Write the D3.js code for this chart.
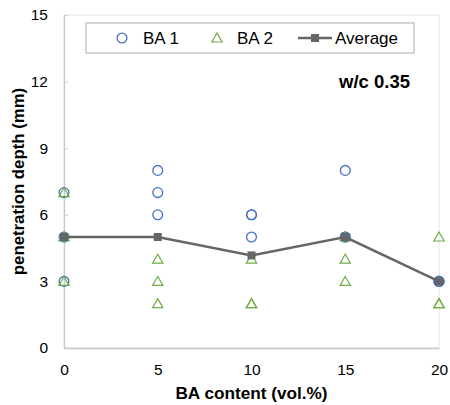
<!DOCTYPE html>
<html>
<head>
<meta charset="utf-8">
<script src="https://cdn.jsdelivr.net/npm/d3@7"></script>
<style>
  html, body { margin: 0; padding: 0; background: #fff; }
  svg { display: block; font-family: "Liberation Sans", Arial, sans-serif; }
</style>
</head>
<body>
<svg id="chart" width="450" height="405"></svg>
<script>
// BA content levels (vol.%)
const baContent = [0, 5, 10, 15, 20];
// Individual penetration depth readings (mm), three per BA content level
const ba1Values = [[7, 5, 3], [8, 7, 6], [6, 6, 5], [8, 5, 5], [3, 3, 3]];
const ba2Values = [[7, 5, 3], [4, 3, 2], [4, 2, 2], [5, 4, 3], [5, 2, 2]];
// Mean penetration depth per BA content level (mm)
const averageValues = [5, 5, 4.17, 5, 3];
const xTicks = [0, 5, 10, 15, 20];
const yTicks = [0, 3, 6, 9, 12, 15];

const svg = d3.select("#chart");
const plotLeft = 64, plotRight = 439, plotTop = 15, plotBottom = 348;

const x = d3.scaleLinear().domain([0, 20]).range([plotLeft, plotRight]);
const y = d3.scaleLinear().domain([0, 15]).range([plotBottom, plotTop]);

// Plot frame
svg.append("rect")
  .attr("x", plotLeft).attr("y", plotTop)
  .attr("width", plotRight - plotLeft).attr("height", plotBottom - plotTop)
  .attr("fill", "none").attr("stroke", "#e6e6e6").attr("stroke-width", 1);

// Axes
const yAxis = svg.append("g").attr("transform", `translate(${plotLeft},0)`)
  .call(d3.axisLeft(y).tickValues(yTicks).tickSize(0).tickPadding(16));
const xAxis = svg.append("g").attr("transform", `translate(0,${plotBottom})`)
  .call(d3.axisBottom(x).tickValues(xTicks).tickSize(0).tickPadding(16));
[yAxis, xAxis].forEach(g => {
  g.select(".domain").attr("stroke", "#c8c8c8").attr("stroke-width", 1.3);
  g.selectAll("text").attr("font-size", 15.5).attr("fill", "#000")
    .attr("font-family", "Liberation Sans, Arial, sans-serif");
});
// small inward ticks on the value axis
yAxis.selectAll(".tick").append("line")
  .attr("x1", 0).attr("x2", 4).attr("stroke", "#d0d0d0");

// Axis titles
svg.append("text")
  .attr("x", x(10)).attr("y", 399)
  .attr("text-anchor", "middle").attr("font-size", 17.2).attr("font-weight", "bold")
  .text("BA content (vol.%)");
svg.append("text")
  .attr("transform", `translate(24,${(plotTop + plotBottom) / 2}) rotate(-90)`)
  .attr("text-anchor", "middle").attr("font-size", 16.8).attr("font-weight", "bold")
  .text("penetration depth (mm)");

// Annotation
svg.append("text")
  .attr("x", 410).attr("y", 88)
  .attr("text-anchor", "end").attr("font-size", 18.5).attr("font-weight", "bold")
  .text("w/c 0.35");

const blue = "#4472C4", green = "#70AD47", gray = "#666666";
const triangle = d3.symbol().type(d3.symbolTriangle).size(46);

const flatten = arr => arr.flatMap((vals, i) => vals.map(v => ({ x: baContent[i], v })));

// BA 1 readings
svg.append("g").selectAll("circle")
  .data(flatten(ba1Values)).join("circle")
  .attr("cx", d => x(d.x)).attr("cy", d => y(d.v)).attr("r", 4.9)
  .attr("fill", "none").attr("stroke", blue).attr("stroke-width", 1.3);

// BA 2 readings
svg.append("g").selectAll("path")
  .data(flatten(ba2Values)).join("path")
  .attr("d", triangle)
  .attr("transform", d => `translate(${x(d.x)},${y(d.v) + 1})`)
  .attr("fill", "none").attr("stroke", green).attr("stroke-width", 1.2);

// Average line with square markers
const avgData = averageValues.map((v, i) => ({ x: baContent[i], v }));
svg.append("path")
  .datum(avgData)
  .attr("d", d3.line().x(d => x(d.x)).y(d => y(d.v)))
  .attr("fill", "none").attr("stroke", gray).attr("stroke-width", 2.5);
svg.append("g").selectAll("rect")
  .data(avgData).join("rect")
  .attr("x", d => x(d.x) - 4).attr("y", d => y(d.v) - 4)
  .attr("width", 8).attr("height", 8).attr("fill", gray);

// Legend
const lg = svg.append("g");
lg.append("rect").attr("x", 86).attr("y", 23).attr("width", 328).attr("height", 30)
  .attr("fill", "#fff").attr("stroke", "#bfbfbf").attr("stroke-width", 1.3);
lg.append("circle").attr("cx", 122).attr("cy", 38).attr("r", 4.9)
  .attr("fill", "none").attr("stroke", blue).attr("stroke-width", 1.3);
lg.append("text").attr("x", 143).attr("y", 44).attr("font-size", 17).text("BA 1");
lg.append("path").attr("d", triangle).attr("transform", "translate(217,39)")
  .attr("fill", "none").attr("stroke", green).attr("stroke-width", 1.2);
lg.append("text").attr("x", 237).attr("y", 44).attr("font-size", 17).text("BA 2");
lg.append("line").attr("x1", 298).attr("x2", 332).attr("y1", 38).attr("y2", 38)
  .attr("stroke", gray).attr("stroke-width", 2.5);
lg.append("rect").attr("x", 311).attr("y", 34).attr("width", 8).attr("height", 8).attr("fill", gray);
lg.append("text").attr("x", 335).attr("y", 44).attr("font-size", 17).text("Average");
</script>
</body>
</html>
